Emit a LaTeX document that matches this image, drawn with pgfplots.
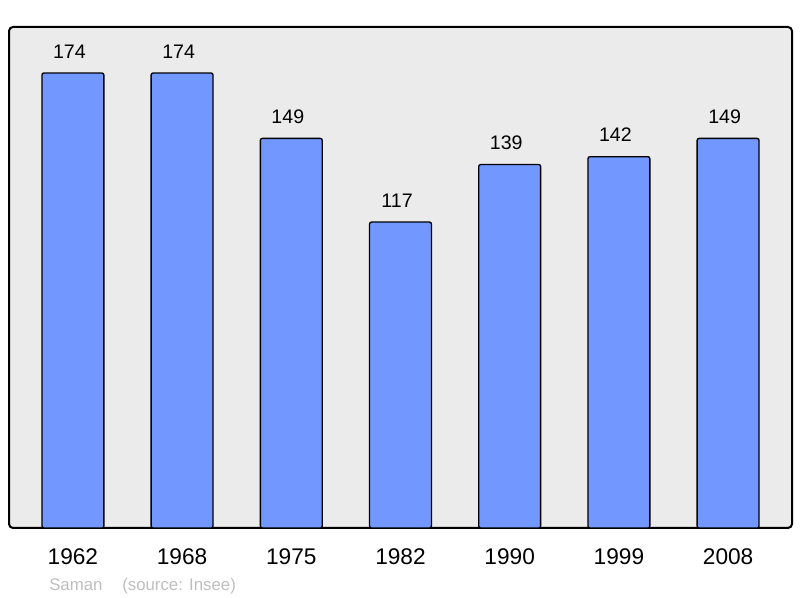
\documentclass[border=0pt]{standalone}
\usepackage{pgfplots}
\pgfplotsset{compat=1.18}
\usepackage{fontspec}
\setmainfont{Liberation Sans}
\definecolor{barblue}{RGB}{114,151,255}
\definecolor{bggray}{RGB}{235,235,235}
\definecolor{srcgray}{RGB}{190,190,190}
\begin{document}
\begin{tikzpicture}
\useasboundingbox (0,0) rectangle (600pt,448.5pt);
\begin{axis}[
  at={(6.75pt,52.5pt)}, anchor=south west,
  scale only axis, width=587.25pt, height=375.75pt,
  xmin=-0.585, xmax=6.585, ymin=0, ymax=191.6,
  axis line style={draw=none},
  axis background/.style={fill=bggray, draw=black, line width=1.5pt, rounded corners=3pt},
  ytick=\empty,
  xtick=data,
  xticklabels={1962,1968,1975,1982,1990,1999,2008},
  major tick length=0pt,
  xticklabel style={font=\fontsize{17pt}{18pt}\selectfont, anchor=base, inner sep=0pt, yshift=-27.6pt},
  /pgf/number format/assume math mode=true,
  ybar, bar width=0.567,
  nodes near coords,
  every node near coord/.append style={font=\fontsize{14.7pt}{16pt}\selectfont, anchor=base, inner sep=0pt, yshift=11.2pt, xshift=-2.6pt, black},
  clip=false,
]
\addplot[fill=barblue, draw=black, line width=1pt, rounded corners=1.5pt] coordinates {
  (0,174) (1,174) (2,149) (3,117) (4,139) (5,142) (6,149)
};
\end{axis}
\node[anchor=base west, inner sep=0pt, text=srcgray, font=\fontsize{12.6pt}{14pt}\selectfont] at (36.75pt,5.6pt) {Saman};
\node[anchor=base west, inner sep=0pt, text=srcgray, font=\fontsize{12.6pt}{14pt}\selectfont] at (91.5pt,5.6pt) {(source: Insee)};
\end{tikzpicture}
\end{document}
